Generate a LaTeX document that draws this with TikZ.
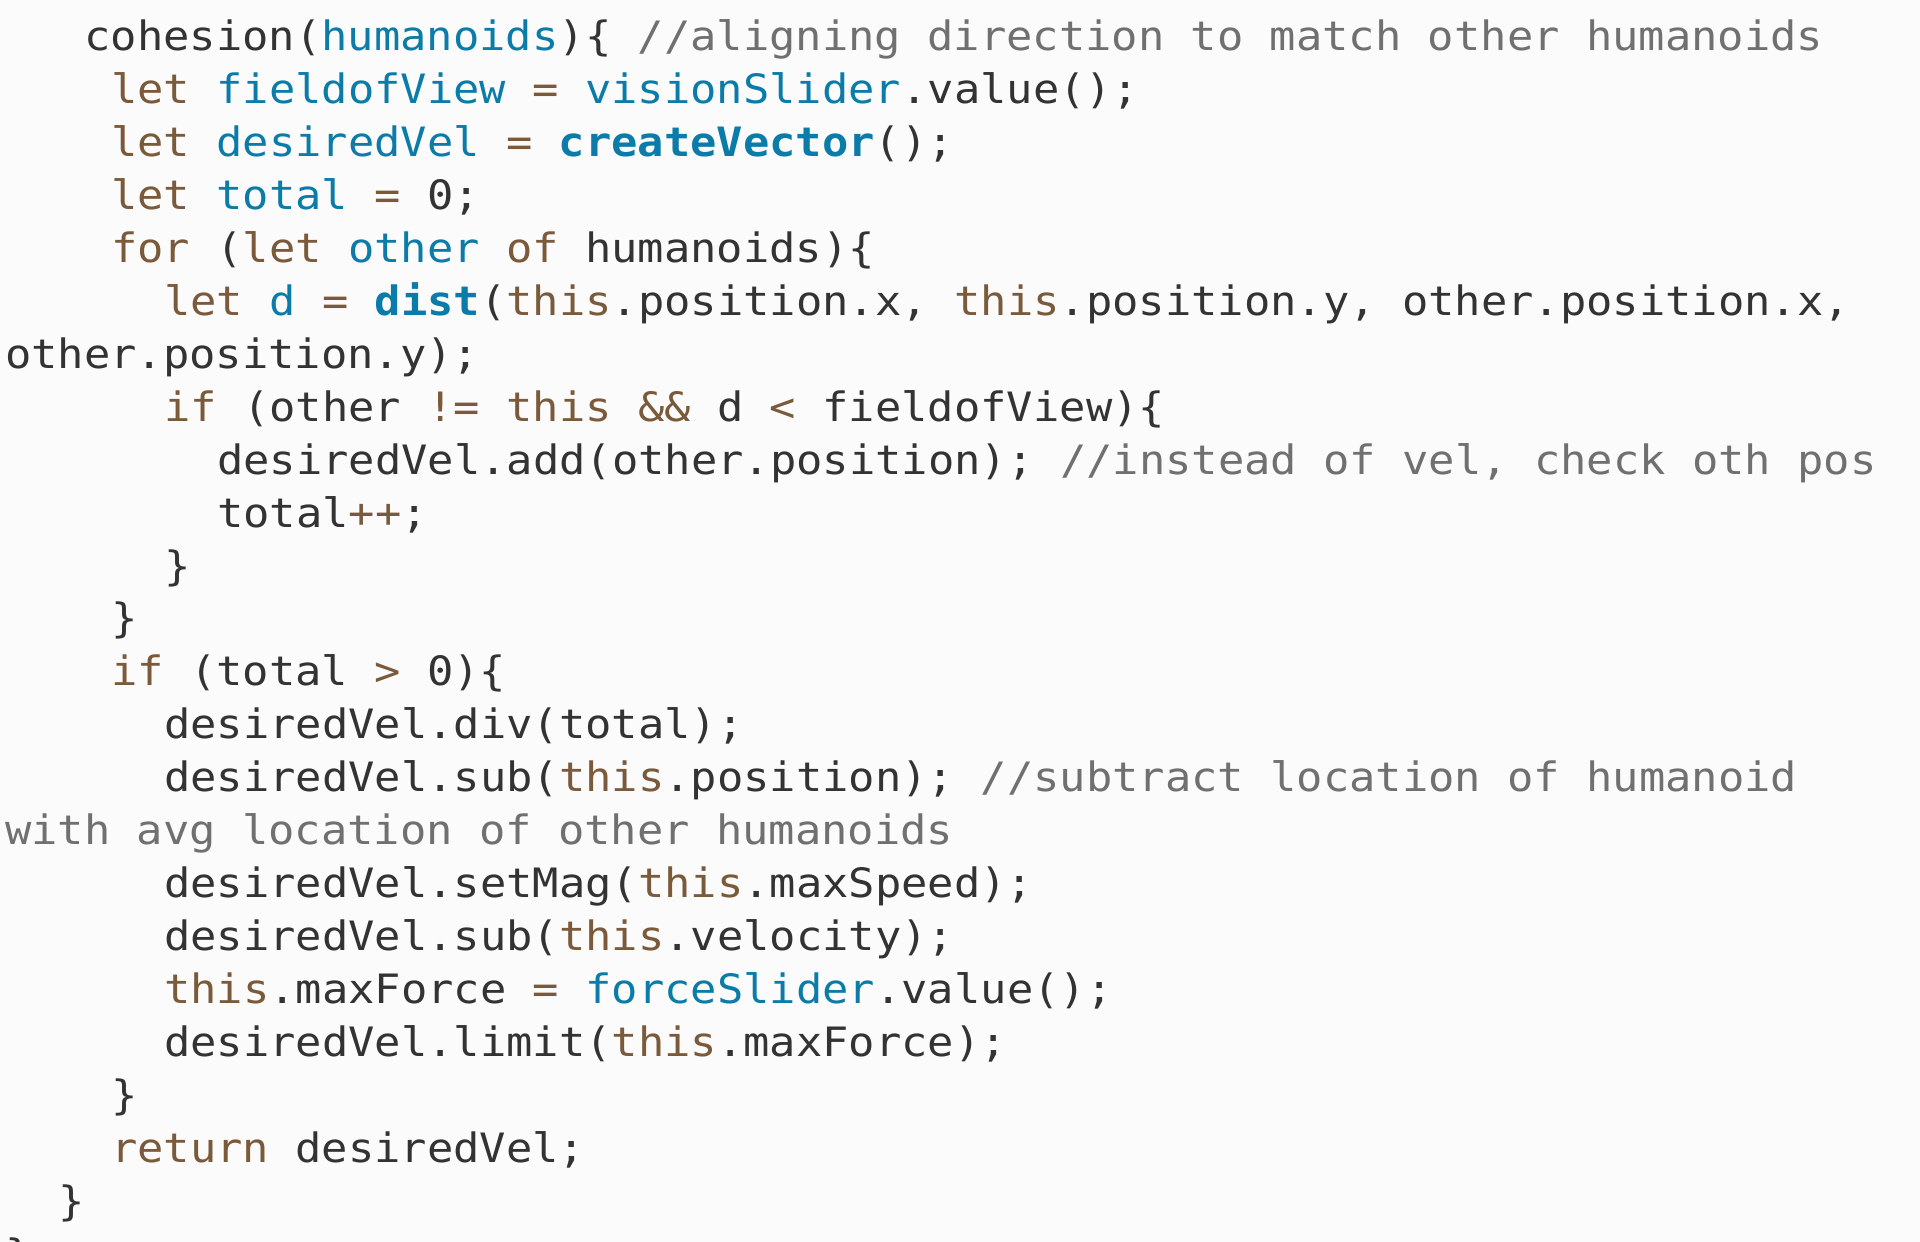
\documentclass[tikz,border=0pt]{standalone}
\usepackage{fontspec}
\usepackage{xcolor}
\usepackage{tikz}
\definecolor{kwbrown}{HTML}{7A5A3A}
\definecolor{varblue}{HTML}{0B7CA9}
\definecolor{cmtgray}{HTML}{707070}
\definecolor{txtdark}{HTML}{333333}
\definecolor{pagebg}{HTML}{FBFBFB}
\newfontfamily\codefont{DejaVu Sans Mono}[FakeStretch=1.082]
\def \kw #1{\textcolor{kwbrown}{#1}}
\def \vr #1{\textcolor{varblue}{#1}}
\def \fn #1{\textcolor{varblue}{\bfseries #1}}
\def \cm #1{\textcolor{cmtgray}{#1}}

\begin{document}
\begin{tikzpicture}
[x=0.01cm,y=-0.01cm,
 ln/.style={anchor=base west,inner sep=0pt,outer sep=0pt,text=txtdark,
   font=\codefont\fontsize{11.5pt}{14pt}\selectfont}]
\useasboundingbox (0,0) rectangle (1920,1242);
\fill[pagebg] (0,0) rectangle (1920,1242);
\clip (0,0) rectangle (1920,1242);
\node[ln] (l1) at (84.5,50) {cohesion(\vr{humanoids})\{ \cm{//aligning direction to match other humanoids}};
\node[ln] (l2) at (111,103) {\kw{let} \vr{fieldofView} \kw{=} \vr{visionSlider}.value();};
\node[ln] (l3) at (111,156) {\kw{let} \vr{desiredVel} \kw{=} \fn{createVector}();};
\node[ln] (l4) at (111,209) {\kw{let} \vr{total} \kw{=} 0;};
\node[ln] (l5) at (111,262) {\kw{for} (\kw{let} \vr{other} \kw{of} humanoids)\{};
\node[ln] (l6) at (164,315) {\kw{let} \vr{d} \kw{=} \fn{dist}(\kw{this}.position.x, \kw{this}.position.y, other.position.x,};
\node[ln] (l7) at (5,368) {other.position.y);};
\node[ln] (l8) at (164,421) {\kw{if} (other \kw{!=} \kw{this} \kw{\&\&} d \kw{<} fieldofView)\{};
\node[ln] (l9) at (217,474) {desiredVel.add(other.position); \cm{//instead of vel, check oth pos}};
\node[ln] (l10) at (217,527) {total\kw{++};};
\node[ln] (l11) at (164,580) {\}};
\node[ln] (l12) at (111,632) {\}};
\node[ln] (l13) at (111,685) {\kw{if} (total \kw{>} 0)\{};
\node[ln] (l14) at (164,738) {desiredVel.div(total);};
\node[ln] (l15) at (164,791) {desiredVel.sub(\kw{this}.position); \cm{//subtract location of humanoid}};
\node[ln] (l16) at (5,844) {\cm{with avg location of other humanoids}};
\node[ln] (l17) at (164,897) {desiredVel.setMag(\kw{this}.maxSpeed);};
\node[ln] (l18) at (164,950) {desiredVel.sub(\kw{this}.velocity);};
\node[ln] (l19) at (164,1003) {\kw{this}.maxForce \kw{=} \vr{forceSlider}.value();};
\node[ln] (l20) at (164,1056) {desiredVel.limit(\kw{this}.maxForce);};
\node[ln] (l21) at (111,1109) {\}};
\node[ln] (l22) at (111,1162) {\kw{return} desiredVel;};
\node[ln] (l23) at (58,1215) {\}};
\node[ln] (l24) at (5,1268) {\}};
\end{tikzpicture}
\end{document}
